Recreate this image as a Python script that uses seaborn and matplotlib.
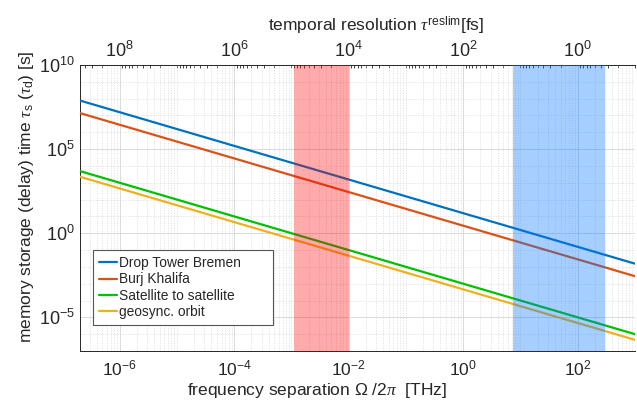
import numpy as np
import pandas as pd
import matplotlib
matplotlib.use("Agg")
import matplotlib.pyplot as plt
import seaborn as sns
from matplotlib.ticker import FixedLocator, LogLocator, LogFormatterSciNotation, NullFormatter

# ---- data ----
freq_thz = [2e-7, 1e3]                       # x end points (THz)
drop_tower = [7.8e7, 1.55e-2]                # storage time (s)
burj_khalifa = [1.4e7, 2.8e-3]
sat_to_sat = [5.0e3, 1.0e-6]
geosync = [2.3e3, 4.6e-7]
series_names = ["Drop Tower Bremen", "Burj Khalifa", "Satellite to satellite", "geosync. orbit"]
series_colors = ["#0072BD", "#D95319", "#00C000", "#EDB120"]
red_band = [1.1e-3, 1e-2]                    # THz
blue_band = [7.5, 300]                       # THz
x_ticks = [1e-6, 1e-4, 1e-2, 1e0, 1e2]
y_ticks = [1e-5, 1e0, 1e5, 1e10]
top_ticks = [1e0, 1e2, 1e4, 1e6, 1e8]        # fs
xlim = [2e-7, 1e3]
ylim = [1e-7, 1e10]

rows = []
for name, vals in zip(series_names, [drop_tower, burj_khalifa, sat_to_sat, geosync]):
    for f, v in zip(freq_thz, vals):
        rows.append({"freq": f, "tau": v, "series": name})
df = pd.DataFrame(rows)

sns.set_theme(style="white")
plt.rcParams["font.family"] = ["Liberation Sans", "DejaVu Sans"]
plt.rcParams["mathtext.fontset"] = "custom"
plt.rcParams["mathtext.rm"] = "Liberation Sans"
plt.rcParams["mathtext.it"] = "Liberation Serif:italic"
plt.rcParams["mathtext.bf"] = "Liberation Sans:bold"

fig = plt.figure(figsize=(6.37, 4.01), dpi=100)
ax = fig.add_axes([79.7 / 637, 1 - 351 / 401, (635 - 79.7) / 637, (351 - 65) / 401])
ax.set_xscale("log")
ax.set_yscale("log")

sns.lineplot(data=df, x="freq", y="tau", hue="series", hue_order=series_names,
             palette=dict(zip(series_names, series_colors)), lw=1.6, ax=ax, zorder=3)

ax.axvspan(red_band[0], red_band[1], color=(1.0, 0.0, 0.0), alpha=0.33, lw=0, zorder=4)
ax.axvspan(blue_band[0], blue_band[1], color=(0.0, 0.47, 1.0), alpha=0.35, lw=0, zorder=4)

ax.set_xlim(xlim)
ax.set_ylim(ylim)

axc = "#262626"
ax.xaxis.set_major_locator(FixedLocator(x_ticks))
ax.xaxis.set_major_formatter(LogFormatterSciNotation())
ax.xaxis.set_minor_locator(LogLocator(base=10, subs=np.arange(1, 10), numticks=200))
ax.xaxis.set_minor_formatter(NullFormatter())
ax.yaxis.set_major_locator(FixedLocator(y_ticks))
ax.yaxis.set_major_formatter(LogFormatterSciNotation())
ax.yaxis.set_minor_locator(LogLocator(base=10, subs=(1.0,), numticks=200))
ax.yaxis.set_minor_formatter(NullFormatter())

ax.grid(True, which="major", color="#dadada", lw=0.7, zorder=0)
ax.grid(True, which="minor", color="#e0e0e0", ls=(0, (1.5, 1.5)), lw=0.6, zorder=0)
ax.set_axisbelow(True)

ax.tick_params(which="both", direction="in", colors=axc, labelcolor=axc, width=0.6,
               top=False, right=False, labelsize=13)
ax.tick_params(axis="x", which="major", pad=5.5, labelsize=12.5)
ax.tick_params(which="major", length=3.5)
ax.tick_params(which="minor", length=1.8)
for s in ["left", "bottom", "top"]:
    ax.spines[s].set_color(axc)
    ax.spines[s].set_linewidth(0.7)
ax.spines["right"].set_visible(False)

sec = ax.secondary_xaxis("top", functions=(lambda f: 100.0 / np.clip(f, 1e-300, None),
                                           lambda t: 100.0 / np.clip(t, 1e-300, None)))
sec.set_xticks(top_ticks)
sec.xaxis.set_major_formatter(LogFormatterSciNotation())
sec.xaxis.set_minor_locator(LogLocator(base=10, subs=np.arange(1, 10), numticks=200))
sec.xaxis.set_minor_formatter(NullFormatter())
sec.tick_params(which="both", direction="in", colors=axc, labelcolor=axc, width=0.6, labelsize=13)
sec.tick_params(which="major", length=3.5, pad=3)
sec.tick_params(which="minor", length=1.8)
sec.spines["top"].set_color(axc)
sec.spines["top"].set_linewidth(0.7)

ax.set_xlabel(r"frequency separation $\Omega$ /2$\pi$  [THz]", fontsize=12.5, color=axc)
ax.xaxis.set_label_coords(0.427, -0.153, transform=ax.transAxes)
ax.xaxis.label.set_va("baseline")
sec.set_xlabel(r"temporal resolution $\tau^{\mathrm{reslim}}$[fs]", fontsize=12.5, color=axc, labelpad=7)
sec.xaxis.label.set_x(0.534)
ax.set_ylabel(r"memory storage (delay) time $\tau_{\mathrm{s}}$ ($\tau_{\mathrm{d}}$) [s]",
              fontsize=12.5, color=axc, labelpad=2)
ax.yaxis.label.set_y(0.54)

handles, labels = ax.get_legend_handles_labels()
leg = ax.legend(handles, labels, loc="lower left",
                bbox_to_anchor=(0.0245, 0.0909, 0.323, 0.248), mode="expand",
                borderaxespad=0, fontsize=9.9, frameon=True, fancybox=False,
                edgecolor="#555555", framealpha=1, handlelength=1.3, handletextpad=0.1,
                labelspacing=0.16, borderpad=0.45)
leg.get_frame().set_linewidth(0.8)
leg.set_zorder(6)

fig.savefig("out.png", dpi=100)
